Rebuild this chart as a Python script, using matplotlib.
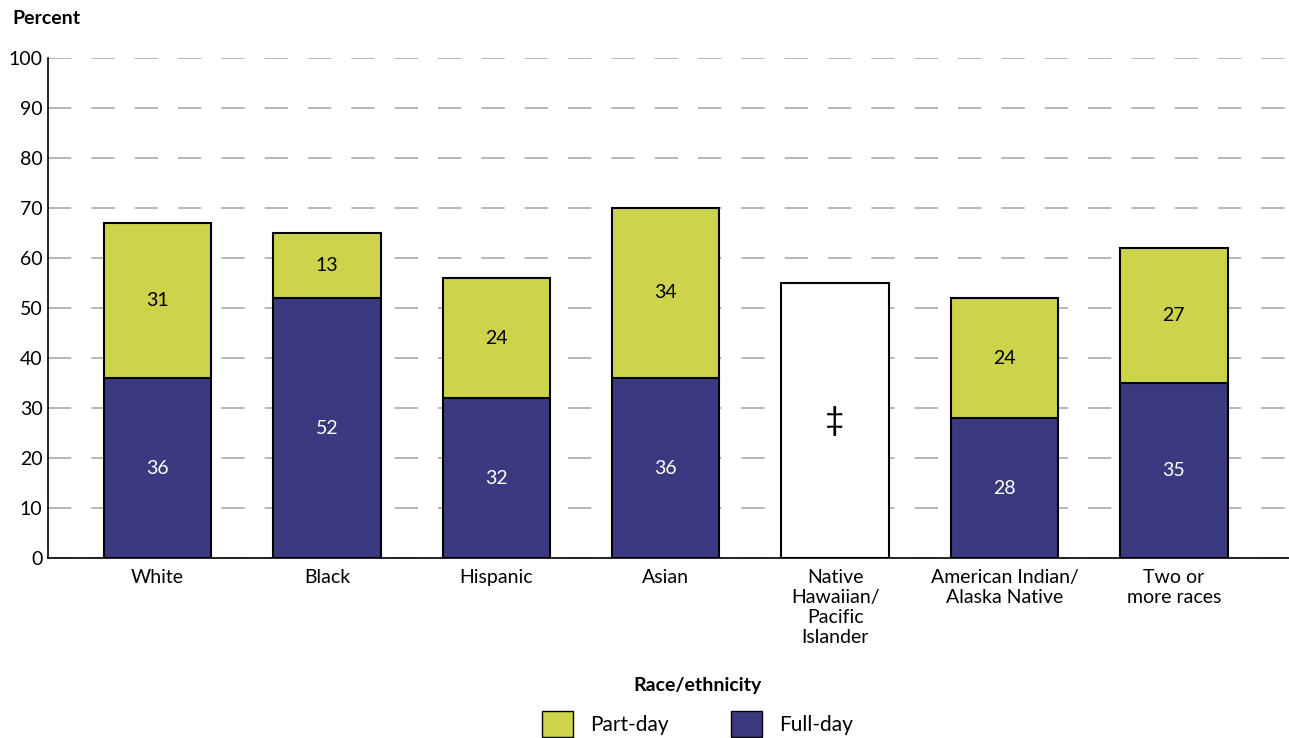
import matplotlib
matplotlib.use("Agg")
import matplotlib.pyplot as plt
import numpy as np

plt.rcParams['font.family'] = ['Lato', 'DejaVu Sans']

categories = ["White", "Black", "Hispanic", "Asian", "Native\nHawaiian/\nPacific\nIslander",
              "American Indian/\nAlaska Native", "Two or\nmore races"]
full_day = [36, 52, 32, 36, None, 28, 35]
part_day = [31, 13, 24, 34, None, 24, 27]
suppressed_total = 55  # Native Hawaiian/Pacific Islander, reporting standards not met

part_col = "#CDD34A"
full_col = "#3B3A80"

fig = plt.figure(figsize=(12.89, 7.38), dpi=100)
ax = fig.add_axes([48/1289, 180/738, 1 - 48/1289, 500/738])

x = np.arange(len(categories))
w = 0.635
for i in x:
    if full_day[i] is None:
        ax.bar(i, suppressed_total, w, color="white", edgecolor="black", linewidth=1.5, zorder=3)
        ax.text(i, suppressed_total / 2, "‡", ha="center", va="center", fontsize=24, zorder=4)
        continue
    ax.bar(i, full_day[i], w, color=full_col, edgecolor="black", linewidth=1.5, zorder=3)
    ax.bar(i, part_day[i], w, bottom=full_day[i], color=part_col, edgecolor="black", linewidth=1.5, zorder=3)
    ax.text(i, full_day[i] / 2, str(full_day[i]), ha="center", va="center", color="white", fontsize=14, zorder=4)
    ax.text(i, full_day[i] + part_day[i] / 2, str(part_day[i]), ha="center", va="center", color="black", fontsize=14, zorder=4)

ax.set_xlim(-0.647, 6.68)
ax.set_ylim(0, 100)
ax.set_yticks(range(0, 101, 10))
ax.yaxis.grid(True, color="#B0A8A8", linestyle=(0, (14, 12)), linewidth=1.2, zorder=0)
ax.set_xticks(x)
ax.set_xticklabels(categories, fontsize=14, va="top")
ax.tick_params(axis="x", length=0, pad=8)
ax.tick_params(axis="y", labelsize=14, length=0, pad=4)
for s in ["top", "right"]:
    ax.spines[s].set_visible(False)
ax.spines["left"].set_linewidth(1.2)
ax.spines["bottom"].set_linewidth(1.2)

fig.text(12/1289, 1 - 18/738, "Percent", fontsize=14, fontweight="bold", va="center")
fig.text(0.541, 1 - 685/738, "Race/ethnicity", fontsize=14, fontweight="bold", ha="center", va="center")

handles = [plt.Rectangle((0, 0), 1, 1, facecolor=part_col, edgecolor="black"),
           plt.Rectangle((0, 0), 1, 1, facecolor=full_col, edgecolor="black")]
fig.legend(handles, ["Part-day", "Full-day"], loc="center", bbox_to_anchor=(0.541, 1 - 724/738),
           ncol=2, frameon=False, fontsize=15, handlelength=1.5, handleheight=1.5, columnspacing=3)

fig.savefig("out.png", dpi=100)
